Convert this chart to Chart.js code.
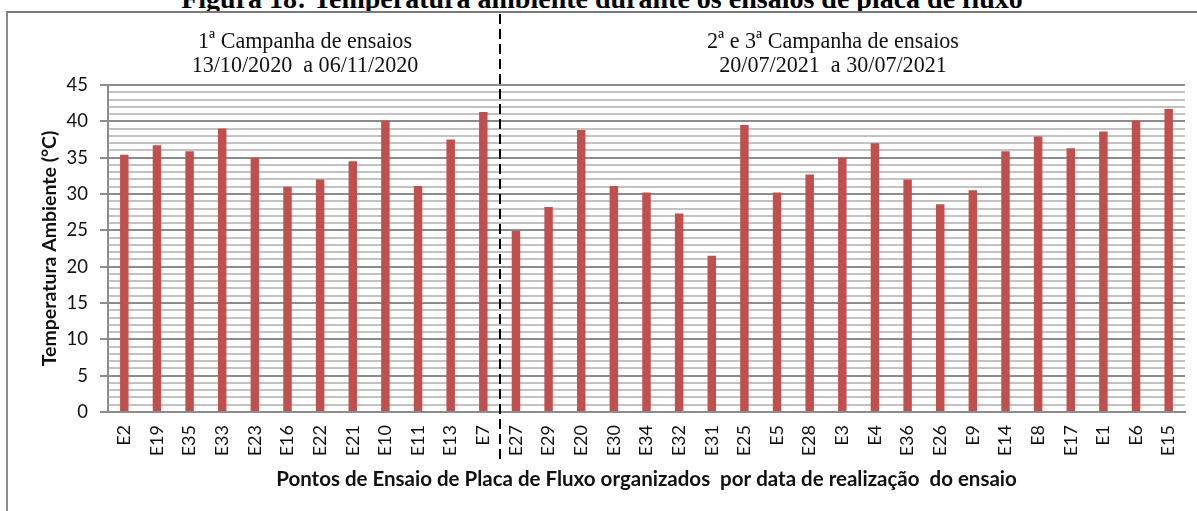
<!DOCTYPE html>
<html>
<head>
<meta charset="utf-8">
<script src="https://cdn.jsdelivr.net/npm/chart.js@4.4.1/dist/chart.umd.min.js"></script>
<style>
  html, body { margin: 0; padding: 0; background: #fff; }
  #wrap { position: relative; width: 1197px; height: 511px; overflow: hidden; background: #fff; }
  #chartBox { position: absolute; left: 0; top: 0; width: 1197px; height: 511px; }
  #frame { position: absolute; left: 6px; top: 11px; width: 1400px; height: 700px;
           border-left: 2px solid #8a8a8a; border-top: 2px solid #7a7a7a; pointer-events: none; }
  #titleClip { position: absolute; left: 0; top: 0; width: 1197px; height: 11px; overflow: hidden; }
  #title { position: absolute; left: 0; width: 1204px; top: -15px; text-align: center;
           font-family: "Liberation Serif", "Times New Roman", serif; font-weight: bold;
           font-size: 28px; line-height: 28px; color: #000; white-space: nowrap; }
  .note { position: absolute; width: 420px; text-align: center; top: 28px;
          font-family: "Liberation Serif", "Times New Roman", serif; font-size: 24px; line-height: 24px;
          color: #111; white-space: pre; transform: scaleX(0.92); transform-origin: center top; }
</style>
</head>
<body>
<div id="wrap">
  <div id="titleClip"><div id="title">Figura 18: Temperatura ambiente durante os ensaios de placa de fluxo</div></div>
  <div id="chartBox"><canvas id="c"></canvas></div>
  <div id="frame"></div>
  <div class="note" id="note1" style="left:95px;">1ª Campanha de ensaios
13/10/2020  a 06/11/2020</div>
  <div class="note" id="note2" style="left:623px;">2ª e 3ª Campanha de ensaios
20/07/2021  a 30/07/2021</div>
</div>
<script>
// ---- Data ----
const campaign1Labels = ["E2","E19","E35","E33","E23","E16","E22","E21","E10","E11","E13","E7"];
const campaign1Values = [35.4, 36.7, 35.9, 39.0, 35.0, 31.0, 32.0, 34.5, 40.1, 31.1, 37.5, 41.3];
const campaign2Labels = ["E27","E29","E20","E30","E34","E32","E31","E25","E5","E28","E3","E4","E36","E26","E9","E14","E8","E17","E1","E6","E15"];
const campaign2Values = [24.9, 28.2, 38.8, 31.1, 30.2, 27.3, 21.5, 39.5, 30.2, 32.7, 35.0, 37.0, 32.0, 28.6, 30.5, 35.9, 37.9, 36.3, 38.6, 40.1, 41.7];
const yTickLabels = [0, 5, 10, 15, 20, 25, 30, 35, 40, 45];
const yTitle = "Temperatura Ambiente (°C)";
const xTitle = "Pontos de Ensaio de Placa de Fluxo organizados  por data de realização  do ensaio";

const categories = campaign1Labels.concat(campaign2Labels);
const values = campaign1Values.concat(campaign2Values);
const splitIndex = campaign1Labels.length;

const dividerPlugin = {
  id: 'divider',
  afterDraw(chart) {
    const xs = chart.scales.x;
    const px = Math.round((xs.getPixelForValue(splitIndex - 1) + xs.getPixelForValue(splitIndex)) / 2);
    const ctx = chart.ctx;
    ctx.save();
    ctx.strokeStyle = '#000';
    ctx.lineWidth = 2;
    ctx.setLineDash([10, 5]);
    ctx.beginPath();
    ctx.moveTo(px, 14);
    ctx.lineTo(px, 461);
    ctx.stroke();
    ctx.restore();
  }
};

function draw() {
  new Chart(document.getElementById('c'), {
    type: 'bar',
    data: {
      labels: categories,
      datasets: [{
        data: values,
        backgroundColor: '#c0504d',
        borderWidth: 0,
        categoryPercentage: 1.0,
        barPercentage: 0.26
      }]
    },
    options: {
      responsive: true,
      maintainAspectRatio: false,
      animation: false,
      events: [],
      layout: { padding: { left: 0, right: 12, top: 85, bottom: 0 } },
      plugins: { legend: { display: false }, tooltip: { enabled: false } },
      scales: {
        x: {
          grid: { display: false, drawTicks: false },
          border: { display: true, color: '#8c8c8c', width: 2 },
          ticks: {
            autoSkip: false, maxRotation: 90, minRotation: 90, padding: 13,
            color: '#111', font: { family: 'Lato', size: 18 }
          },
          title: {
            display: true, text: xTitle, color: '#111',
            font: { family: 'Lato', size: 20.5, weight: 'bold' },
            padding: { top: 0, bottom: 19 }
          },
          afterFit(s) { s.height = 99; s.paddingLeft = 0; s.paddingRight = 0; }
        },
        y: {
          min: 0, max: 45,
          ticks: {
            stepSize: 1, autoSkip: false, padding: 12, color: '#111',
            font: { family: 'Lato', size: 18.5 },
            callback: v => (yTickLabels.includes(v) ? String(v) : '')
          },
          grid: {
            lineWidth: 2,
            tickLength: 8,
            color: c => (yTickLabels.includes(c.tick.value) ? '#8c8c8c' : '#c2c2c2'),
            tickColor: c => (yTickLabels.includes(c.tick.value) ? '#8c8c8c' : 'rgba(0,0,0,0)')
          },
          border: { color: '#8c8c8c', width: 2 },
          title: {
            display: true, text: yTitle, color: '#111',
            font: { family: 'Lato', size: 19.5, weight: 'bold' },
            padding: { top: 38, bottom: 0 }
          },
          afterFit(s) { s.width = 108; s.paddingTop = 0; s.paddingBottom = 0; }
        }
      }
    },
    plugins: [dividerPlugin]
  });
}

if (document.fonts && document.fonts.load) {
  Promise.all([
    document.fonts.load('18px Lato'),
    document.fonts.load('bold 18px Lato')
  ]).then(draw, draw);
} else {
  draw();
}
</script>
</body>
</html>
